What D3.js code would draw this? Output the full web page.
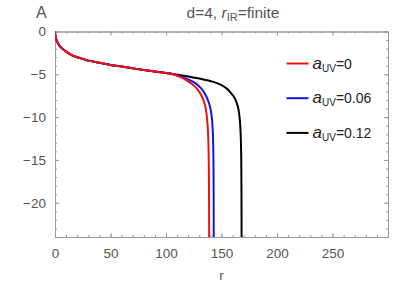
<!DOCTYPE html>
<html>
<head>
<meta charset="utf-8">
<script src="https://cdn.jsdelivr.net/npm/d3@7"></script>
<style>
  body { margin: 0; background: #fff; }
  svg { font-family: "Liberation Sans", Arial, sans-serif; }
</style>
</head>
<body>
<div id="chart"></div>
<script>
// datos
const rComun = [0, 0.2, 0.5, 1, 2, 3, 5, 7, 10, 15, 20, 25, 30, 40, 50, 60, 70, 80, 90, 100];
const aComun = [0, -0.35, -0.6, -0.85, -1.2, -1.45, -1.8, -2.05, -2.35, -2.75, -3.0, -3.2, -3.4, -3.65, -3.9, -4.1, -4.3, -4.5, -4.68, -4.85];

const rRojo = [105, 110, 115, 120, 124, 127, 130, 132, 134, 135.5, 136.6, 137.5, 138.2, 138.6, 138.8, 138.9];
const aRojo = [-4.97, -5.17, -5.45, -5.82, -6.2, -6.55, -7.05, -7.5, -8.1, -8.8, -9.7, -11, -13, -16, -20, -25];

const rAzul = [105, 110, 115, 120, 125, 129, 133, 136, 138.3, 140, 141.3, 142.2, 142.7, 142.9, 143];
const aAzul = [-4.95, -5.1, -5.33, -5.6, -5.92, -6.3, -6.85, -7.5, -8.2, -9.0, -10.1, -11.8, -14.5, -18, -25];

const rNegro = [106, 112, 120, 130, 142, 150, 155, 158, 161, 163, 164.8, 166, 166.8, 167.4, 167.8, 168, 168.1];
const aNegro = [-4.95, -5.07, -5.25, -5.5, -5.85, -6.25, -6.7, -7.1, -7.6, -8.1, -8.8, -9.7, -10.8, -12.5, -15, -19, -25];

const series = [
  { etiqueta: "0", color: "#ee1111", r: rRojo, a: aRojo },
  { etiqueta: "0.06", color: "#1111ee", r: rAzul, a: aAzul },
  { etiqueta: "0.12", color: "#000000", r: rNegro, a: aNegro }
];

const xTicks = [0, 50, 100, 150, 200, 250];
const yTicks = [0, -5, -10, -15, -20];

// Configuración del SVG
const margin = { top: 31.5, right: 19, bottom: 48, left: 55 };
const W = 407, H = 285;
const width = W - margin.left - margin.right;
const height = H - margin.top - margin.bottom;

const svgRoot = d3.select("#chart").append("svg")
  .attr("width", W)
  .attr("height", H);

const svg = svgRoot.append("g")
  .attr("transform", `translate(${margin.left}, ${margin.top})`);

const x = d3.scaleLinear().domain([0, 300]).range([0, width]);
const y = d3.scaleLinear().domain([-24, 0]).range([height, 0]);

const gris = "#999";
const texto = "#555";

// Ejes (marco con ticks hacia dentro)
const xMinor = d3.range(0, 301, 10);
const yMinor = d3.range(-24, 1, 1);
const fmt = d => d < 0 ? "\u2212" + Math.abs(d) : String(d);

function estilo(g) {
  g.selectAll("path").attr("stroke", gris);
  g.selectAll("line").attr("stroke", gris);
  g.selectAll("text").attr("fill", texto).attr("font-size", 13.5);
}

svg.append("g").attr("transform", `translate(0, ${height})`)
  .call(d3.axisBottom(x).tickValues(xMinor).tickSize(-2).tickFormat("").tickSizeOuter(0)).call(estilo);
svg.append("g").attr("transform", `translate(0, ${height})`)
  .call(d3.axisBottom(x).tickValues(xTicks).tickSize(-4).tickPadding(11).tickFormat(fmt).tickSizeOuter(0)).call(estilo);
svg.append("g")
  .call(d3.axisTop(x).tickValues(xMinor).tickSize(-2).tickFormat("").tickSizeOuter(0)).call(estilo);
svg.append("g")
  .call(d3.axisTop(x).tickValues(xTicks).tickSize(-4).tickFormat("").tickSizeOuter(0)).call(estilo);

svg.append("g")
  .call(d3.axisLeft(y).tickValues(yMinor).tickSize(-2).tickFormat("").tickSizeOuter(0)).call(estilo);
svg.append("g")
  .call(d3.axisLeft(y).tickValues(yTicks).tickSize(-4).tickPadding(9).tickFormat(fmt).tickSizeOuter(0)).call(estilo);
svg.append("g").attr("transform", `translate(${width}, 0)`)
  .call(d3.axisRight(y).tickValues(yMinor).tickSize(-2).tickFormat("").tickSizeOuter(0)).call(estilo);
svg.append("g").attr("transform", `translate(${width}, 0)`)
  .call(d3.axisRight(y).tickValues(yTicks).tickSize(-4).tickFormat("").tickSizeOuter(0)).call(estilo);

svg.selectAll(".domain").attr("stroke", gris);

// Curvas
svg.append("clipPath").attr("id", "clip")
  .append("rect").attr("width", width).attr("height", height);

const linea = d3.line()
  .x(d => x(d[0]))
  .y(d => y(d[1]))
  .curve(d3.curveCatmullRom.alpha(0.5));

series.slice().reverse().forEach(s => {
  const puntos = rComun.map((r, i) => [r, aComun[i]])
    .concat(s.r.map((r, i) => [r, s.a[i]]));
  svg.append("path")
    .datum(puntos)
    .attr("clip-path", "url(#clip)")
    .attr("fill", "none")
    .attr("stroke", s.color)
    .attr("stroke-width", 2)
    .attr("d", linea);
});

// Leyenda
const legend = svg.append("g").attr("transform", `translate(${286.5 - margin.left}, ${63.5 - margin.top})`);
series.forEach((s, i) => {
  legend.append("line")
    .attr("x1", 0).attr("x2", 22)
    .attr("y1", i * 34.7).attr("y2", i * 34.7)
    .attr("stroke", s.color).attr("stroke-width", 2);
  const t = legend.append("text")
    .attr("x", 26).attr("y", i * 34.7 + 5)
    .attr("font-size", 14).attr("fill", "#222");
  t.append("tspan").attr("font-style", "italic").attr("font-size", 17).text("a");
  t.append("tspan").attr("font-size", 10).attr("dy", 3).text("UV");
  t.append("tspan").attr("dy", -3).text("=" + s.etiqueta);
});

// Títulos
svgRoot.append("text")
  .attr("x", 36).attr("y", 18)
  .attr("font-size", 16).attr("fill", texto)
  .text("A");

const titulo = svgRoot.append("text")
  .attr("x", 233).attr("y", 18)
  .attr("text-anchor", "middle")
  .attr("font-size", 15.5).attr("fill", texto);
titulo.append("tspan").text("d=4, ");
titulo.append("tspan").attr("font-style", "italic").text("r");
titulo.append("tspan").attr("font-size", 11).attr("dy", 3).text("IR");
titulo.append("tspan").attr("dy", -3).text("=finite");

svgRoot.append("text")
  .attr("x", margin.left + width / 2).attr("y", 280)
  .attr("text-anchor", "middle")
  .attr("font-size", 13.5).attr("fill", texto)
  .text("r");
</script>
</body>
</html>
